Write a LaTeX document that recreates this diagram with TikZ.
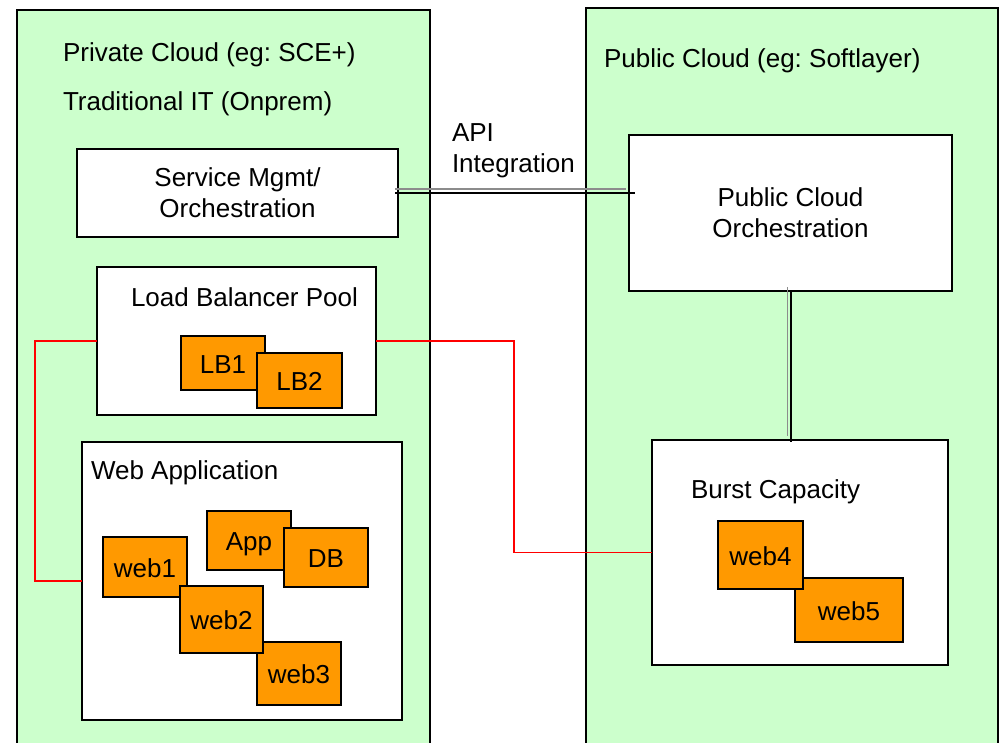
\documentclass[tikz,border=0pt]{standalone}
\usepackage{fontspec}
\setmainfont{Liberation Sans}
\frenchspacing
\begin{document}
\begin{tikzpicture}[x=1pt,y=-1pt,
  every node/.style={font=\fontsize{26}{31}\selectfont, inner sep=0pt, outer sep=0pt},
  cloud/.style={draw=black, line width=2pt, fill=cloudgreen},
  panel/.style={draw=black, line width=2pt, fill=white, align=center},
  unit/.style={draw=black, line width=2pt, fill=unitorange, text height=20pt, text depth=0pt},
  heading/.style={anchor=base west},
  link/.style={red, line width=1.5pt},
  trunk/.style={black, line width=2pt},
  trunkshade/.style={gray!90, line width=1.7pt, transform canvas={xshift=-3pt, yshift=4pt}}
]
\definecolor{cloudgreen}{HTML}{CCFFCC}
\definecolor{unitorange}{HTML}{FF9900}
\useasboundingbox (0,0) rectangle (1000,742);
\clip (0,0) rectangle (1000,742);
\fill[white] (0,0) rectangle (1000,742);

% the two cloud regions
\node[cloud, minimum width=413, minimum height=800] (priv) at (223.5,410) {};
\node[cloud, minimum width=412, minimum height=800] (pub) at (792,408) {};

\node[heading] (privtitle) at (63,61) {Private Cloud (eg: SCE+)};
\node[heading] (tradtitle) at (63,110) {Traditional IT (Onprem)};
\node[heading] (pubtitle) at (604,67) {Public Cloud (eg: Softlayer)};
\node[heading] (api) at (452,141) {API};
\node[heading] (integ) at (452,172) {Integration};

% management panels
\node[panel, minimum width=321, minimum height=88] (svc) at (237.5,193) {Service Mgmt/\\Orchestration};
\node[panel, minimum width=323, minimum height=156] (pco) at (790.5,213) {Public Cloud\\Orchestration};

% workload panels
\node[panel, minimum width=279, minimum height=148] (lbpool) at (236.5,341) {};
\node[heading] (lbtitle) at (131,306) {Load Balancer Pool};
\node[panel, minimum width=320, minimum height=278] (webapp) at (242,581) {};
\node[heading] (webtitle) at (91,479) {Web Application};
\node[panel, minimum width=296, minimum height=225] (burst) at (800,552.5) {};
\node[heading] (bursttitle) at (691,498) {Burst Capacity};

% load balancers
\node[unit, minimum width=84, minimum height=54] (lb1) at (223,363) {LB1};
\node[unit, minimum width=85, minimum height=55] (lb2) at (299.5,380.5) {LB2};

% application servers
\node[unit, minimum width=84, minimum height=59] (app) at (249,540.5) {App};
\node[unit, minimum width=84, minimum height=59] (db) at (326,557.5) {DB};
\node[unit, minimum width=84, minimum height=60] (web1) at (145,567) {web1};
\node[unit, minimum width=84, minimum height=63] (web3) at (299,673.5) {web3};
\node[unit, minimum width=83, minimum height=67] (web2) at (221.5,619.5) {web2};

% burst servers
\node[unit, minimum width=108, minimum height=64] (web5) at (849,610) {web5};
\node[unit, minimum width=85, minimum height=68] (web4) at (760.5,555) {web4};

% API integration trunks
\draw[trunkshade] (svc.east) -- (pco.west |- svc.east);
\draw[trunk, shorten <=-3pt, shorten >=-6pt] (svc.east) -- (pco.west |- svc.east);
\draw[trunkshade] (pco.south) -- (pco.south |- burst.north);
\draw[trunk, shorten >=-2pt] (pco.south) -- (pco.south |- burst.north);

% network links
\draw[link] (lbpool.west) -- ++(-62,0) |- (webapp.west);
\draw[link] (lbpool.east) -- ++(138,0) |- (burst.west);
\end{tikzpicture}
\end{document}
